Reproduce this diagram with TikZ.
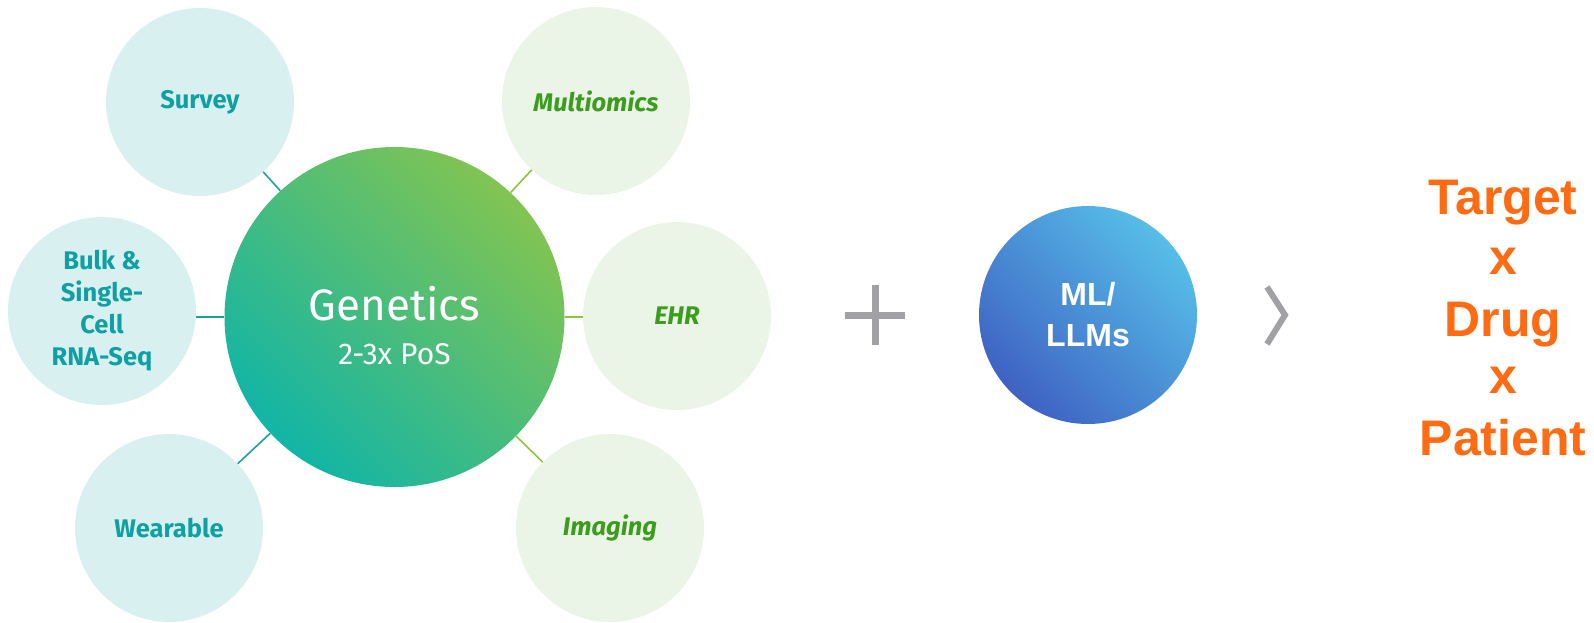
\documentclass[tikz,border=0pt]{standalone}
\usepackage{fontspec}
\setmainfont{Liberation Sans}
\newfontfamily\labfont{Fira Sans}
\definecolor{lfill}{HTML}{D8F0F0}
\definecolor{ltext}{HTML}{10A0A4}
\definecolor{rfill}{HTML}{EAF4E7}
\definecolor{rtext}{HTML}{3C9C1E}
\definecolor{lline}{HTML}{1A9FAA}
\definecolor{rline}{HTML}{8CC540}
\definecolor{gencA}{HTML}{82C452}
\definecolor{gencB}{HTML}{12B5A6}
\definecolor{mlA}{HTML}{56BEE8}
\definecolor{mlB}{HTML}{3F62C3}
\definecolor{graymark}{HTML}{A0A0A5}
\definecolor{orangetxt}{HTML}{FF6B12}
\tikzset{
  leftsat/.style={circle, fill=lfill, minimum size=188pt, inner sep=0pt, align=center,
    text=ltext, font=\labfont\bfseries\fontsize{25.5}{32}\selectfont},
  rightsat/.style={circle, fill=rfill, minimum size=188pt, inner sep=0pt, align=center,
    text=rtext, font=\labfont\bfseries\itshape\fontsize{25.5}{32}\selectfont},
  lconn/.style={draw=lline, line width=1.6pt},
  rconn/.style={draw=rline, line width=1.6pt},
  outtxt/.style={text=orangetxt, font=\bfseries\fontsize{50}{60}\selectfont, anchor=base}
}
\begin{document}
\begin{tikzpicture}[x=1pt,y=-1pt]
\useasboundingbox (0,0) rectangle (1594,622);
% satellites
\node[leftsat] (sur) at (200,102) {Survey};
\node[leftsat] (bulk) at (102,311) {Bulk \&\\Single-\\Cell\\RNA-Seq};
\node[leftsat] (wear) at (169,528) {Wearable};
\node[rightsat] (multi) at (596,101) {Multiomics};
\node[rightsat] (ehr) at (677,316) {EHR};
\node[rightsat] (img) at (610,528) {Imaging};
% center
\node[circle, minimum size=340pt, inner sep=0pt, top color=gencA, bottom color=gencB,
  shading angle=-45] (gen) at (394.5,317) {};
\node[align=center, text=white, inner sep=0pt, font=\labfont\fontsize{30}{44}\selectfont]
  (gentxt) at (394.5,326) {{\fontsize{44}{44}\selectfont Genetics}\\2-3x PoS};
% connectors
\draw[lconn] (sur) -- (gen);
\draw[lconn] (gen.west) -- (gen.west -| bulk.east);
\draw[lconn] (wear) -- (gen);
\draw[rconn] (multi) -- (gen);
\draw[rconn] (gen.east) -- (gen.east -| ehr.west);
\draw[rconn] (img) -- (gen);
% plus
\coordinate (pl) at (845,315);
\coordinate (pr) at (905,315);
\coordinate (pt) at (875,285);
\coordinate (pb) at (875,345);
\draw[graymark, line width=7pt] (pl) -- (pr);
\draw[graymark, line width=7pt] (pt) -- (pb);
% ML circle
\node[circle, minimum size=218pt, inner sep=0pt, top color=mlA, bottom color=mlB,
  shading angle=-45, align=center, text=white,
  font=\bfseries\fontsize{32}{41}\selectfont] (ml) at (1088,315) {ML/\\LLMs};
% chevron
\coordinate (ca) at (1267,287);
\coordinate (cb) at (1285,315);
\coordinate (cc) at (1267,344);
\draw[graymark, line width=6pt, line join=miter] (ca) -- (cb) -- (cc);
% outcome text
\node[outtxt] (t1) at (1503,214) {Target};
\node[outtxt] (t2) at (1503,274) {x};
\node[outtxt] (t3) at (1503,336) {Drug};
\node[outtxt] (t4) at (1503,393) {x};
\node[outtxt] (t5) at (1503,455) {Patient};
\end{tikzpicture}
\end{document}
